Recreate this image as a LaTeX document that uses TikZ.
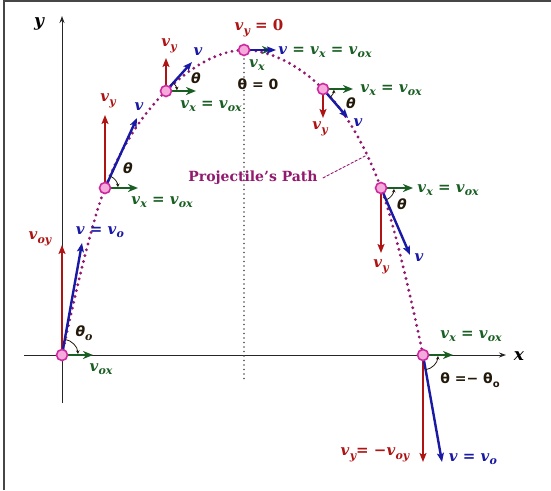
\documentclass[tikz,border=0pt]{standalone}
\usepackage{fontspec}
\setmainfont{DejaVu Serif}
\newfontfamily\thf{DejaVu Sans}
\usetikzlibrary{arrows.meta}
\definecolor{vyc}{RGB}{175,20,20}
\definecolor{vc}{RGB}{25,25,165}
\definecolor{vxc}{RGB}{25,95,35}
\definecolor{pathc}{RGB}{145,25,110}
\definecolor{ptc}{RGB}{205,40,160}
\definecolor{ptfill}{RGB}{245,170,220}
\definecolor{thc}{RGB}{35,25,10}
\definecolor{framec}{RGB}{70,70,70}
\newcommand\labfont{\fontsize{15}{17}\selectfont\bfseries\itshape}
\newcommand\sbf{\fontsize{11}{11}\selectfont}
\newcommand\vs[1]{v\kern0.3pt\raisebox{-0.45ex}{\sbf #1}}
\newcommand\thsym{{\thf\bfseries\fontsize{14}{16}\selectfont θ}}
\tikzset{
  lab/.style={font=\labfont, inner sep=0pt},
  vyarr/.style={draw=vyc, line width=1.8pt, -{Stealth[length=9pt,width=7pt,inset=2pt]}},
  varr/.style={draw=vc, line width=2.4pt, -{Stealth[length=9pt,width=7pt,inset=2pt]}},
  vxarr/.style={draw=vxc, line width=1.8pt, -{Stealth[length=10pt,width=8pt,inset=3pt]}},
  marker/.style={circle, draw=ptc, fill=ptfill, line width=1.6pt, minimum size=11pt, inner sep=0pt},
  angarc/.style={draw=thc, line width=0.8pt, -{Stealth[length=3.5pt,width=3.5pt]}},
  axisline/.style={draw=black!85, line width=1pt, -{Stealth[length=7pt,width=5pt]}},
  dotline/.style={draw=black!70, line width=1.9pt, line cap=round, dash pattern=on 0pt off 4.5pt},
  pathline/.style={draw=pathc, line width=3.2pt, line cap=round, dash pattern=on 0pt off 6pt},
}
\begin{document}
\begin{tikzpicture}[x=1pt,y=-1pt]
\useasboundingbox (0,0) rectangle (551,490);
% frame
\draw[framec, line width=2pt] (4,490) -- (4,1) -- (551,1);
% axes
\coordinate (yb) at (62,403);
\coordinate (yt) at (62,16);
\coordinate (xl) at (24,355);
\coordinate (xr) at (506,355);
\draw[axisline] (yb) -- (yt);
\draw[axisline] (xl) -- (xr);
\node[lab, font=\fontsize{17}{19}\selectfont\bfseries\itshape] (ylab) at (39,24) {y};
\node[lab, font=\fontsize{17}{19}\selectfont\bfseries\itshape] (xlab) at (519,356) {x};
% path points
\coordinate (c0) at (62,355);
\coordinate (c1) at (105,188);
\coordinate (c2) at (166,91);
\coordinate (c3) at (244,50);
\coordinate (c4) at (323,89);
\coordinate (c5) at (381,188);
\coordinate (c6) at (423,355);
% vertical dotted line
\coordinate (dbot) at (244,383);
\draw[dotline] (c3) -- (dbot);
% projectile path
\draw[pathline] plot[smooth, tension=0.6] coordinates {(c0) (c1) (c2) (c3) (c4) (c5) (c6)};
% arrow tip coordinates
\coordinate (r0) at (62,245);  \coordinate (b0) at (82,243);  \coordinate (g0) at (93,355);
\coordinate (r1) at (105,115); \coordinate (b1) at (137,118); \coordinate (g1) at (138,188);
\coordinate (r2) at (166,58);  \coordinate (b2) at (192,62);  \coordinate (g2) at (196,91);
\coordinate (b3) at (276,50);  \coordinate (g3) at (272,50);
\coordinate (r4) at (323,118); \coordinate (b4) at (348,118); \coordinate (g4) at (353,89);
\coordinate (r5) at (381,253); \coordinate (b5) at (410,255); \coordinate (g5) at (413,188);
\coordinate (r6) at (423,462); \coordinate (b6) at (442,462); \coordinate (g6) at (453,355);
% vectors
\draw[vxarr] (c0) -- (g0); \draw[vyarr] (c0) -- (r0); \draw[varr] (c0) -- (b0);
\draw[vxarr] (c1) -- (g1); \draw[vyarr] (c1) -- (r1); \draw[varr] (c1) -- (b1);
\draw[vxarr] (c2) -- (g2); \draw[vyarr] (c2) -- (r2); \draw[varr] (c2) -- (b2);
\draw[vxarr] (c3) -- (g3); \draw[varr] (c3) -- (b3);
\draw[vxarr] (c4) -- (g4); \draw[vyarr] (c4) -- (r4); \draw[varr] (c4) -- (b4);
\draw[vxarr] (c5) -- (g5); \draw[vyarr] (c5) -- (r5); \draw[varr] (c5) -- (b5);
\draw[vxarr] (c6) -- (g6); \draw[vyarr] (c6) -- (r6); \draw[varr] (c6) -- (b6);
% angle arcs
\draw[angarc] (c0) ++(-80:16) arc[start angle=-80, end angle=-4, radius=16];
\draw[angarc] (c1) ++(-65:13) arc[start angle=-65, end angle=-4, radius=13];
\draw[angarc] (c2) ++(-48:11) arc[start angle=-48, end angle=-4, radius=11];
\draw[angarc] (c4) ++(49:11) arc[start angle=49, end angle=4, radius=11];
\draw[angarc] (c5) ++(67:13) arc[start angle=67, end angle=4, radius=13];
\draw[angarc] (c6) ++(80:15) arc[start angle=80, end angle=4, radius=15];
% markers
\foreach \i in {0,...,6} { \node[marker] (m\i) at (c\i) {}; }
% labels P0
\node[lab, vyc] (ly0) at (40,239) {\vs{oy}};
\node[lab, vc] (lv0) at (100,232) {v = \vs{o}};
\node[lab, thc] (lt0) at (84,333) {\thsym\raisebox{-0.45ex}{\sbf o}};
\node[lab, vxc] (lx0) at (101,369) {\vs{ox}};
% labels P1
\node[lab, vyc] (ly1) at (108,101) {\vs{y}};
\node[lab, vc] (lv1) at (139,107) {v};
\node[lab, thc] (lt1) at (128,168) {\thsym};
\node[lab, vxc] (lx1) at (162,202) {\vs{x} = \vs{ox}};
% labels P2
\node[lab, vyc] (ly2) at (169,46) {\vs{y}};
\node[lab, vc] (lv2) at (198,52) {v};
\node[lab, thc] (lt2) at (196,78) {\thsym};
\node[lab, vxc] (lx2) at (211,106) {\vs{x} = \vs{ox}};
% labels P3
\node[lab, vyc] (ly3) at (259,28) {\vs{y} = \upshape 0};
\node[lab, vxc] (lx3) at (257,65) {\vs{x}};
\node[lab, thc, font=\thf\bfseries\fontsize{14}{16}\selectfont] (lt3) at (258,84) {θ = 0};
\node[lab, vxc] (lv3) at (325,52) {{\color{vc}v} = \vs{x} = \vs{ox}};
% labels P4
\node[lab, vxc] (lx4) at (391,90) {\vs{x} = \vs{ox}};
\node[lab, thc] (lt4) at (351,103) {\thsym};
\node[lab, vyc] (ly4) at (320,129) {\vs{y}};
\node[lab, vc] (lv4) at (358,123) {v};
% labels P5
\node[lab, vxc] (lx5) at (448,190) {\vs{x} = \vs{ox}};
\node[lab, thc] (lt5) at (402,204) {\thsym};
\node[lab, vyc] (ly5) at (381,267) {\vs{y}};
\node[lab, vc] (lv5) at (419,258) {v};
% labels P6
\node[lab, vxc] (lx6) at (471,336) {\vs{x} = \vs{ox}};
\node[lab, thc, font=\thf\bfseries\fontsize{14}{16}\selectfont] (lt6) at (470,380) {θ =− θ\raisebox{-0.45ex}{\fontsize{10}{10}\selectfont o}};
\node[lab, vyc] (ly6) at (375,455) {\vs{y}= −\vs{oy}};
\node[lab, vc] (lv6) at (473,459) {v = \vs{o}};
% path label
\node[font=\fontsize{14}{16}\selectfont\bfseries, text=pathc, inner sep=0pt] (pl) at (253,178) {Projectile's Path};
\coordinate (lead) at (367,155);
\draw[pathc, line width=0.9pt, dash pattern=on 3pt off 1.5pt] ([xshift=5pt]pl.east) -- (lead);
\end{tikzpicture}
\end{document}
